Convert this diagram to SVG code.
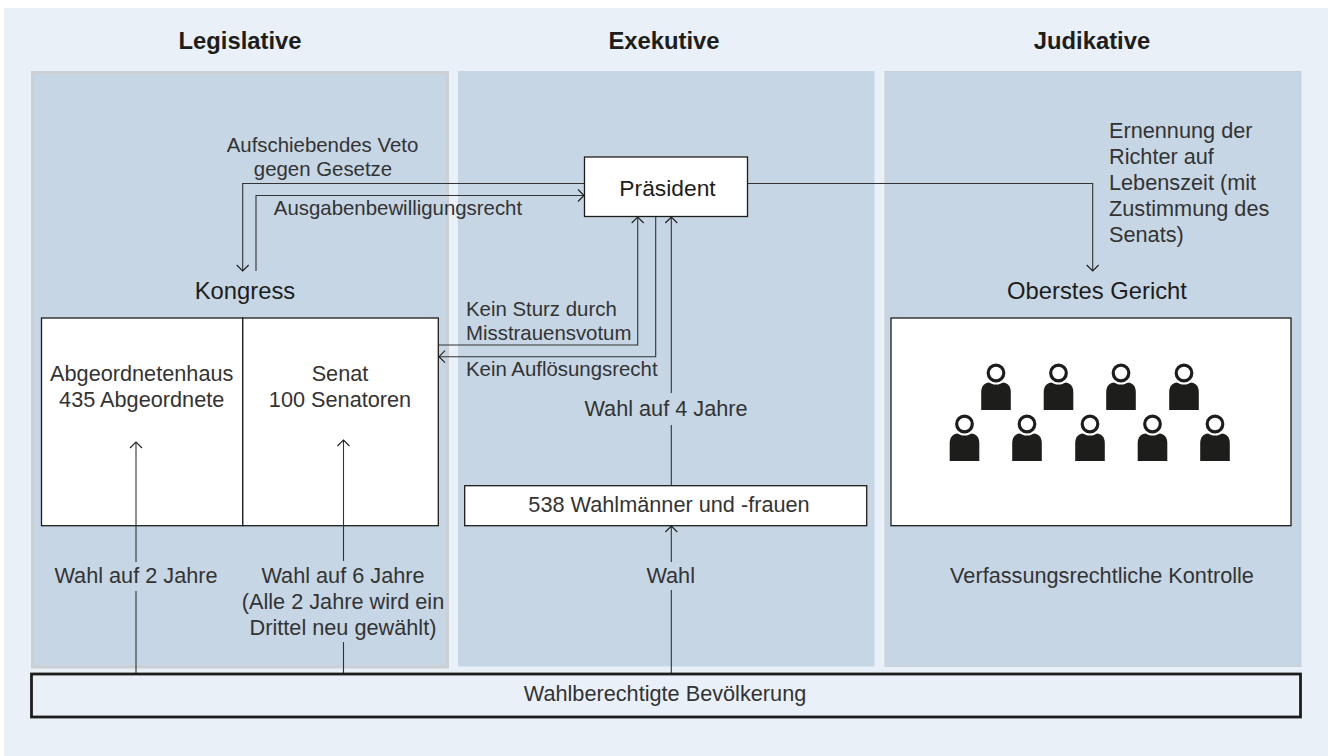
<svg xmlns="http://www.w3.org/2000/svg" width="1328" height="756" viewBox="0 0 1328 756">
<style>
text{font-family:"Liberation Sans",Arial,sans-serif;font-size:21.7px;fill:#333;text-anchor:middle}
text.k{font-size:20.4px}
text.h{font-weight:bold;font-size:23.800px;fill:#1d1d1b}
text.n{font-size:23.800px;fill:#1d1d1b}
text.s{text-anchor:start}
.b{fill:#fff;stroke:#1d1d1b;stroke-width:1.3}
.c{fill:none;stroke:#333;stroke-width:1.100}
.pan{fill:#c6d6e4;stroke:#cbd0d4;stroke-width:1}
</style>
<defs>
<marker id="a" markerUnits="userSpaceOnUse" markerWidth="16" markerHeight="16" refX="12" refY="8" orient="auto"><path d="M6 2L12 8L6 14" fill="none" stroke="#1d1d1b" stroke-width="1.100"/></marker>
<g id="p"><path d="M-14.800 37V19C-14.800 13 -11 9.500 -7 9.500H7C11 9.500 14.800 13 14.800 19V37Z" fill="#1d1d1b"/><circle r="11.500" fill="#fff"/><circle r="7.800" fill="#fff" stroke="#1d1d1b" stroke-width="3.200"/></g>
</defs>
<rect x="4" y="8" width="1324" height="748" fill="#e9f0f8"/>
<g id="legislative"><rect x="32.500" y="72.500" width="415" height="594.500" fill="#c6d6e4" stroke="#cbd0d4" stroke-width="3"/><text class="h" x="240" y="49">Legislative</text></g>
<g id="exekutive"><rect x="458" y="71" width="416.500" height="595.500" fill="#c6d6e4"/><text class="h" x="664" y="49">Exekutive</text></g>
<g id="judikative"><rect class="pan" x="885" y="71.500" width="416" height="595"/><text class="h" x="1092" y="49">Judikative</text></g>
<g id="connectors">
<path class="c" d="M584 183.500H242.700V271" marker-end="url(#a)"/>
<path class="c" d="M256 271V195.500H584" marker-end="url(#a)"/>
<path class="c" d="M439 345H637.700V217" marker-end="url(#a)"/>
<path class="c" d="M655.700 216V356.700H439" marker-end="url(#a)"/>
<path class="c" d="M671.300 393V217" marker-end="url(#a)"/>
<path class="c" d="M671.300 425V485"/>
<path class="c" d="M671.300 562V526" marker-end="url(#a)"/>
<path class="c" d="M671.300 590V673"/>
<path class="c" d="M747 183.500H1092.700V271" marker-end="url(#a)"/>
<path class="c" d="M136 591V673"/>
<path class="c" d="M343.500 642V673"/>
</g>
<g id="praesident"><rect class="b" x="584.500" y="157" width="163" height="59.500"/><text class="n" x="667.500" y="196" style="font-size:22.800px">Präsident</text></g>
<g id="kongress"><text class="n" x="245" y="299">Kongress</text></g>
<g id="abgeordnetenhaus"><rect class="b" x="41.500" y="318" width="201.300" height="207.700"/><text x="141.700" y="381">Abgeordnetenhaus</text><text x="141.700" y="407">435 Abgeordnete</text></g>
<g id="senat"><rect class="b" x="242.800" y="318" width="195.500" height="207.700"/><text x="340" y="381">Senat</text><text x="340" y="407">100 Senatoren</text></g>
<g id="wahlmaenner"><rect class="b" x="464.700" y="485.700" width="402" height="40"/><text x="669" y="512">538 Wahlmänner und -frauen</text></g>
<g id="gericht-titel"><text class="n" x="1097" y="299">Oberstes Gericht</text></g>
<g id="gericht"><rect class="b" x="891" y="318" width="400" height="207.700"/>
<use href="#p" x="996" y="373"/><use href="#p" x="1058.500" y="373"/><use href="#p" x="1121" y="373"/><use href="#p" x="1184" y="373"/>
<use href="#p" x="964.500" y="424"/><use href="#p" x="1027" y="424"/><use href="#p" x="1090" y="424"/><use href="#p" x="1152.500" y="424"/><use href="#p" x="1215" y="424"/></g>
<g id="wahl-pfeile"><path class="c" d="M136 562V442" marker-end="url(#a)"/><path class="c" d="M343.500 561V440" marker-end="url(#a)"/></g>
<g id="bevoelkerung"><rect x="31.500" y="674" width="1269" height="43" fill="#e9f0f8" stroke="#1d1d1b" stroke-width="2.800"/><text x="665" y="701">Wahlberechtigte Bevölkerung</text></g>
<g id="labels">
<text class="k" x="322.500" y="152">Aufschiebendes Veto</text><text class="k" x="323" y="176">gegen Gesetze</text>
<text class="k" x="398" y="215">Ausgabenbewilligungsrecht</text>
<text class="k s" x="466" y="316">Kein Sturz durch</text><text class="k s" x="466" y="340">Misstrauensvotum</text>
<text class="k s" x="466" y="376">Kein Auflösungsrecht</text>
<text x="666" y="416">Wahl auf 4 Jahre</text>
<text x="670.700" y="583">Wahl</text>
<text x="136" y="583">Wahl auf 2 Jahre</text>
<text x="343" y="583">Wahl auf 6 Jahre</text><text x="343" y="609">(Alle 2 Jahre wird ein</text><text x="343" y="635">Drittel neu gewählt)</text>
<text x="1102" y="583">Verfassungsrechtliche Kontrolle</text>
<text class="s" x="1109" y="138">Ernennung der</text><text class="s" x="1109" y="164">Richter auf</text><text class="s" x="1109" y="190">Lebenszeit (mit</text><text class="s" x="1109" y="216">Zustimmung des</text><text class="s" x="1109" y="242">Senats)</text>
</g>
</svg>
